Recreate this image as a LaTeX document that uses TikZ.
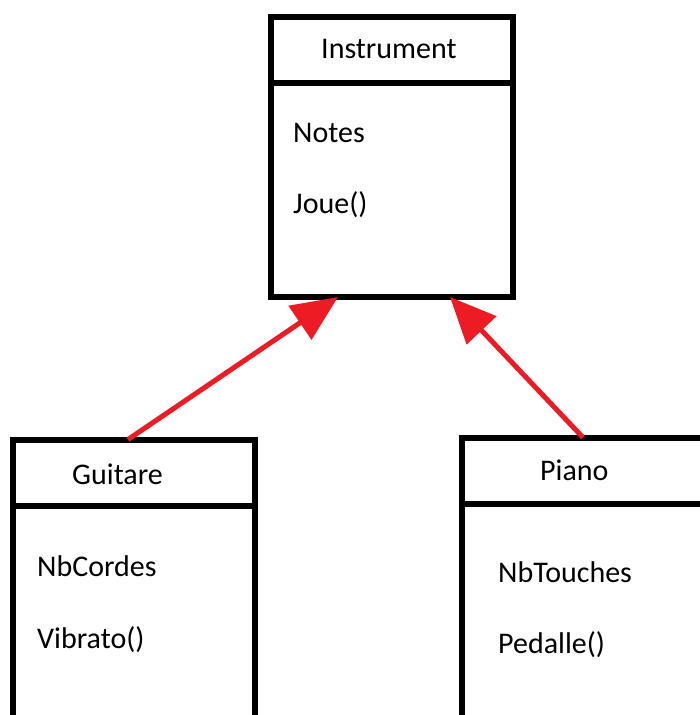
\documentclass[tikz,border=0pt]{standalone}
\usepackage{fontspec}
\setmainfont{Carlito}
\usetikzlibrary{arrows.meta,positioning}
\definecolor{paintred}{RGB}{237,28,36}

\begin{document}
\begin{tikzpicture}[
    x=1pt, y=-1pt,
    font=\fontsize{30}{36}\selectfont,
    head/.style={rectangle, draw, line width=6pt, minimum width=242pt, minimum height=66pt, outer sep=0pt},
    body/.style={rectangle, draw, line width=6pt, minimum width=242pt, outer sep=0pt},
    txt/.style={inner sep=0pt, anchor=base west},
    inherit/.style={draw=paintred, line width=5pt, -{Triangle[length=46pt, width=40pt]}}
]
    \useasboundingbox (0,0) rectangle (700,715);
    \clip (0,0) rectangle (700,715);

    % classe mere
    \node[head] (instr) at (392,50) {};
    \node[body, minimum height=214pt] (instrbody) [below=0pt of instr] {};
    \node[txt] (instrname) at (321,58) {Instrument};
    \node[txt] (notes) at (293,142) {Notes};
    \node[txt] (joue) at (293,213) {Joue()};

    % classes filles
    \node[head] (guit) at (134,472.5) {};
    \node[body, minimum height=260pt] (guitbody) [below=0pt of guit] {};
    \node[txt] (guitname) at (72,484) {Guitare};
    \node[txt] (nbcordes) at (37,576) {NbCordes};
    \node[txt] (vibrato) at (37,648) {Vibrato()};

    \node[head] (piano) at (583,470.5) {};
    \node[body, minimum height=260pt] (pianobody) [below=0pt of piano] {};
    \node[txt] (pianoname) at (540,480) {Piano};
    \node[txt] (nbtouches) at (498,582) {NbTouches};
    \node[txt] (pedalle) at (498,653) {Pedalle()};

    \draw[inherit] ([xshift=-6pt]guit.north) -- ([xshift=-54pt]instrbody.south);
    \draw[inherit] (piano.north) -- ([xshift=58pt]instrbody.south);
\end{tikzpicture}
\end{document}
